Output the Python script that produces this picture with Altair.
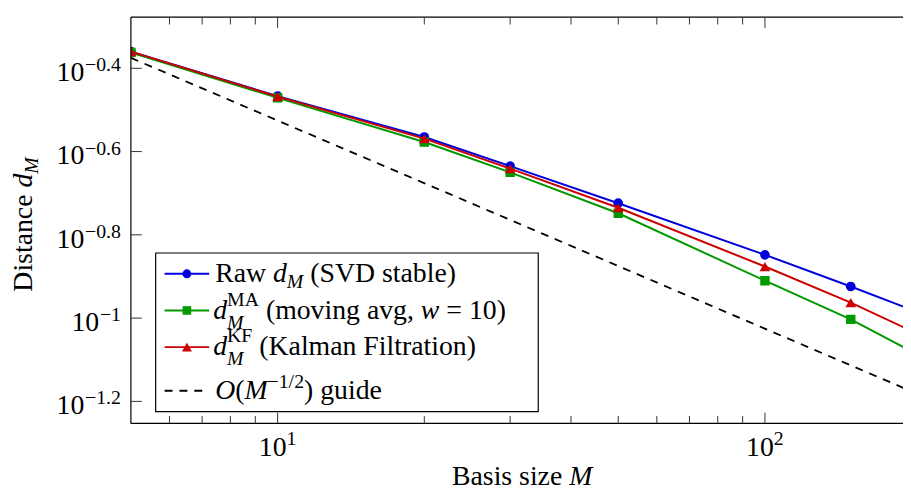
import altair as alt
import pandas as pd

# ---------------- data ----------------
M_VALUES = [5, 10, 20, 30, 50, 100, 150, 200]
RAW = [0.4365, 0.3412, 0.2723, 0.2317, 0.1888, 0.1419, 0.1191, 0.1047]
MA = [0.4345, 0.3381, 0.2649, 0.2239, 0.1786, 0.1230, 0.0993, 0.0832]
KF = [0.4365, 0.3404, 0.2698, 0.2286, 0.1841, 0.1330, 0.1089, 0.0931]
GUIDE_M = [5, 200]
GUIDE_D = [0.4217, 0.0667]

Y_EXPONENTS = [-0.4, -0.6, -0.8, -1.0, -1.2]
Y_EXP_LABELS = ["−0.4", "−0.6", "−0.8", "−1", "−1.2"]
X_MAJOR = [10, 100]
X_EXP_LABELS = ["1", "2"]
X_MINOR = [6, 7, 8, 9, 20, 30, 40, 50, 60, 70, 80, 90]

# ---------------- layout / style ----------------
W, H = 779, 410
FONT = "Liberation Serif"
BASE = 28
SMALL = 20
BLUE, GREEN, RED = "#0000dd", "#009900", "#cc0000"
GRID = "#e2e2e2"
TICK = "#333333"
SIZES = {"circle": 95, "square": 90, "triangle-up": 115}

xs = alt.Scale(type="log", domain=[5, 192], nice=False)
ys = alt.Scale(type="log", domain=[0.05585, 0.5284], nice=False)

ROMAN = {' ': 250, '(': 333, ')': 333, ',': 250, '.': 250, '/': 278, '=': 564, '−': 564,
         'R': 667, 'a': 444, 'w': 722, 'S': 556, 'V': 722, 'D': 722, 's': 389, 't': 278,
         'b': 500, 'l': 278, 'e': 444, 'M': 889, 'A': 722, 'm': 778, 'o': 500, 'v': 500,
         'i': 278, 'n': 500, 'g': 500, 'K': 722, 'F': 556, 'k': 500, 'r': 333, 'u': 500,
         'd': 500, 'B': 667, 'z': 444, 'c': 444, 'O': 722}
ITAL = {'d': 500, 'M': 833, 'w': 667, 'O': 722}


def tw(s, it, size):
    tbl = ITAL if it else ROMAN
    return sum(tbl.get(c, ROMAN.get(c, 500)) for c in s) * size / 1000.0


def lay(segments, x0, y0, out):
    x = x0
    for seg in segments:
        adv = 0
        for (t, it, sz, dy) in seg:
            lead = len(t) - len(t.lstrip(' '))
            out.append(dict(t=t.strip(' '), x=x + tw(' ' * lead, False, sz), y=y0 + dy, s=sz, it=it))
            adv = max(adv, tw(t, it, sz))
        x += adv


legend_rows = []
TX = 85
lay([[("Raw ", False, BASE, 0)], [("d", True, BASE, 0)], [("M", True, SMALL, 6)],
     [(" (SVD stable)", False, BASE, 0)]], TX, 267, legend_rows)
lay([[("d", True, BASE, 0)], [("MA", False, SMALL, -13), ("M", True, SMALL, 10)],
     [(" (moving avg, ", False, BASE, 0)], [("w", True, BASE, 0)], [(" = 10)", False, BASE, 0)]],
    TX - 2, 305, legend_rows)
lay([[("d", True, BASE, 0)], [("KF", False, SMALL, -13), ("M", True, SMALL, 10)],
     [(" (Kalman Filtration)", False, BASE, 0)]], TX - 2, 341, legend_rows)
lay([[("O", True, BASE, 0)], [("(", False, BASE, 0)], [("M", True, BASE, 0)],
     [("−1/2", False, SMALL, -11)], [(") guide", False, BASE, 0)]], TX, 385, legend_rows)
# x axis title
lay([[("Basis size ", False, BASE, 0)], [("M", True, BASE, 0)]], 324, 472, legend_rows)
text_df = pd.DataFrame(legend_rows)

# ---------------- chart ----------------
layers = []
for i, (vals, color, shape) in enumerate([(RAW, BLUE, "circle"), (MA, GREEN, "square"),
                                          (KF, RED, "triangle-up")]):
    d = pd.DataFrame({"M": M_VALUES, "d": vals})
    if i == 0:
        xe = alt.X("M:Q", scale=xs, axis=alt.Axis(values=X_MAJOR, grid=True, gridColor=GRID, labels=False,
                                                 ticks=False, domain=False, title=None))
        ye = alt.Y("d:Q", scale=ys, axis=alt.Axis(values=[10 ** e for e in Y_EXPONENTS], grid=True,
                                                 gridColor=GRID, labels=False, ticks=False, domain=False,
                                                 title=None))
    else:
        xe = alt.X("M:Q", scale=xs, axis=None)
        ye = alt.Y("d:Q", scale=ys, axis=None)
    c = alt.Chart(d)
    layers.append(c.mark_line(color=color, strokeWidth=2, clip=True).encode(x=xe, y=ye))
    layers.append(c.mark_point(shape=shape, filled=True, opacity=1, size=SIZES[shape], color=color,
                               strokeWidth=0, clip=True).encode(x=xe, y=ye))

guide = alt.Chart(pd.DataFrame({"M": GUIDE_M, "d": GUIDE_D})).mark_line(
    color="black", strokeDash=[8, 7], strokeWidth=1.8, clip=True).encode(
    x=alt.X("M:Q", scale=xs, axis=None), y=alt.Y("d:Q", scale=ys, axis=None))
layers.append(guide)

one = pd.DataFrame({"a": [0]})
# frame (top, bottom, left)
layers.append(alt.Chart(one).mark_rule(color="black", strokeWidth=1.2).encode(
    x=alt.value(0), x2=alt.value(W), y=alt.value(0)))
layers.append(alt.Chart(one).mark_rule(color="black", strokeWidth=1.2).encode(
    x=alt.value(0), x2=alt.value(W), y=alt.value(H)))
layers.append(alt.Chart(one).mark_rule(color="black", strokeWidth=1.2).encode(
    x=alt.value(0), y=alt.value(0), y2=alt.value(H)))

# inward ticks
maj = alt.Chart(pd.DataFrame({"v": X_MAJOR}))
mnr = alt.Chart(pd.DataFrame({"v": X_MINOR}))
for ch, ln in [(maj, 11), (mnr, 7.5)]:
    layers.append(ch.mark_rule(color=TICK, strokeWidth=1).encode(
        x=alt.X("v:Q", scale=xs, axis=None), y=alt.value(H), y2=alt.value(H - ln)))
    layers.append(ch.mark_rule(color=TICK, strokeWidth=1).encode(
        x=alt.X("v:Q", scale=xs, axis=None), y=alt.value(0), y2=alt.value(ln)))
ytk = alt.Chart(pd.DataFrame({"v": [10 ** e for e in Y_EXPONENTS], "lab": Y_EXP_LABELS}))
layers.append(ytk.mark_rule(color=TICK, strokeWidth=1).encode(
    y=alt.Y("v:Q", scale=ys, axis=None), x=alt.value(0), x2=alt.value(11)))

# y tick labels 10^{e}
layers.append(ytk.transform_calculate(xb="length(datum.lab) > 2 ? -47 : -32").mark_text(
    align="right", baseline="alphabetic", dy=13, font=FONT, fontSize=BASE, color="black").encode(
    y=alt.Y("v:Q", scale=ys, axis=None), x=alt.X("xb:Q", scale=None), text=alt.value("10")))
layers.append(ytk.mark_text(align="right", baseline="alphabetic", dy=3, font=FONT, fontSize=SMALL,
                            color="black").encode(
    y=alt.Y("v:Q", scale=ys, axis=None), x=alt.value(-10), text="lab:N"))

# x tick labels 10^{k}
xtk = alt.Chart(pd.DataFrame({"v": X_MAJOR, "lab": X_EXP_LABELS}))
layers.append(xtk.mark_text(align="right", baseline="alphabetic", dx=9, font=FONT, fontSize=BASE,
                            color="black").encode(
    x=alt.X("v:Q", scale=xs, axis=None), y=alt.value(H + 33), text=alt.value("10")))
layers.append(xtk.mark_text(align="left", baseline="alphabetic", dx=9, font=FONT, fontSize=SMALL,
                            color="black").encode(
    x=alt.X("v:Q", scale=xs, axis=None), y=alt.value(H + 22), text="lab:N"))

# legend box
layers.append(alt.Chart(one).mark_rect(fill="white", stroke="black", strokeWidth=1.2).encode(
    x=alt.value(25), x2=alt.value(411), y=alt.value(238), y2=alt.value(398)))
for ly, color, shape in [(259, BLUE, "circle"), (296, GREEN, "square"), (333, RED, "triangle-up")]:
    layers.append(alt.Chart(one).mark_rule(color=color, strokeWidth=2).encode(
        x=alt.value(34), x2=alt.value(79), y=alt.value(ly)))
    layers.append(alt.Chart(one).mark_point(shape=shape, filled=True, opacity=1, size=SIZES[shape] - 15,
                                            color=color, strokeWidth=0).encode(
        x=alt.value(56.5), y=alt.value(ly)))
layers.append(alt.Chart(one).mark_rule(color="black", strokeWidth=1.8, strokeDash=[8, 7]).encode(
    x=alt.value(34), x2=alt.value(73), y=alt.value(377)))

# legend + x title text
for it in [False, True]:
    sub = text_df[text_df["it"] == it]
    layers.append(alt.Chart(sub).mark_text(align="left", baseline="alphabetic", font=FONT,
                                           fontStyle="italic" if it else "normal", color="black").encode(
        x=alt.X("x:Q", scale=None), y=alt.Y("y:Q", scale=None), text="t:N",
        size=alt.Size("s:Q", scale=None, legend=None)))

# y title (rotated)
ybase = 277
layers.append(alt.Chart(one).mark_text(align="left", baseline="alphabetic", angle=270, font=FONT,
                                       fontSize=BASE, color="black").encode(
    x=alt.value(-100), y=alt.value(ybase), text=alt.value("Distance")))
dpos = ybase - tw("Distance ", False, BASE)
layers.append(alt.Chart(one).mark_text(align="left", baseline="alphabetic", angle=270, font=FONT,
                                       fontSize=BASE, fontStyle="italic", color="black").encode(
    x=alt.value(-100), y=alt.value(dpos), text=alt.value("d")))
layers.append(alt.Chart(one).mark_text(align="left", baseline="alphabetic", angle=270, font=FONT,
                                       fontSize=SMALL, fontStyle="italic", color="black").encode(
    x=alt.value(-94), y=alt.value(dpos - tw("d", True, BASE)), text=alt.value("M")))

chart = alt.layer(*layers).properties(
    width=W, height=H,
    autosize=alt.AutoSizeParams(type="none"),
    padding={"left": 124, "top": 7, "right": 0, "bottom": 67},
    background="white",
).configure_view(stroke=None)

chart.save("out.html", embed_options={"renderer": "svg", "actions": False})
